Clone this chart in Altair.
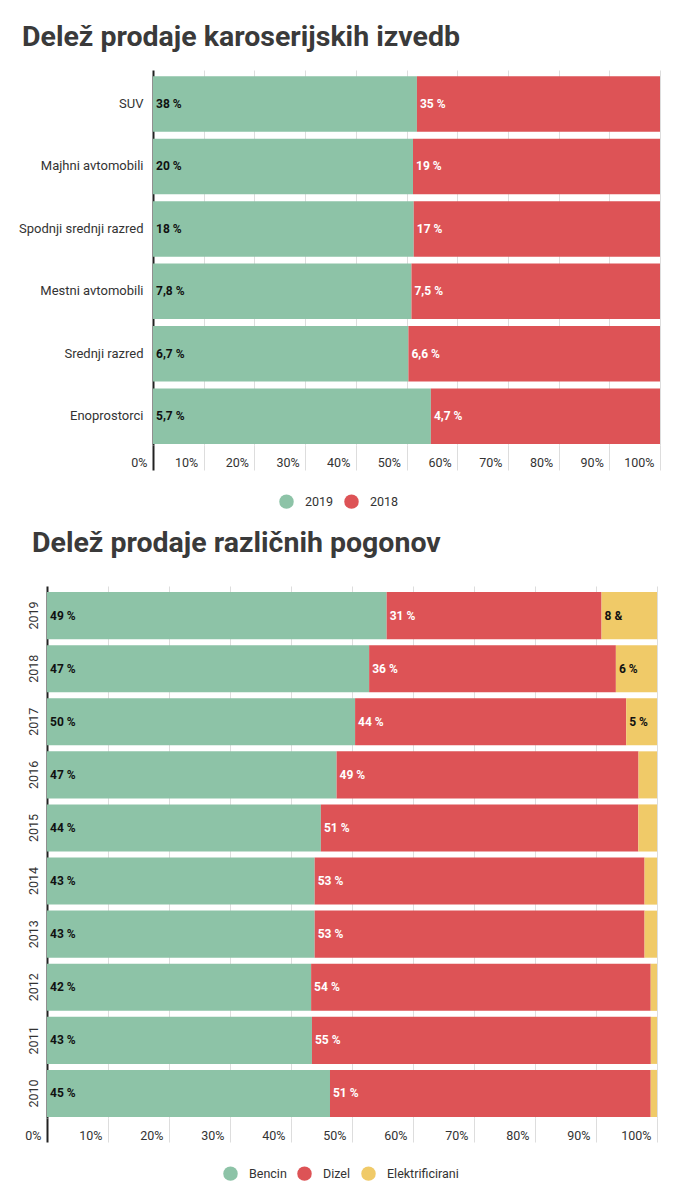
import altair as alt
import pandas as pd

# ---- top chart data ----
body_types = ["SUV", "Majhni avtomobili", "Spodnji srednji razred",
              "Mestni avtomobili", "Srednji razred", "Enoprostorci"]
share_2019 = [38, 20, 18, 7.8, 6.7, 5.7]
share_2018 = [35, 19, 17, 7.5, 6.6, 4.7]
labels_2019 = ["38 %", "20 %", "18 %", "7,8 %", "6,7 %", "5,7 %"]
labels_2018 = ["35 %", "19 %", "17 %", "7,5 %", "6,6 %", "4,7 %"]
series_top = ["2019", "2018"]

# ---- bottom chart data ----
years = ["2019", "2018", "2017", "2016", "2015", "2014", "2013", "2012", "2011", "2010"]
bencin = [49, 47, 50, 47, 44, 43, 43, 42, 43, 45]
dizel = [31, 36, 44, 49, 51, 53, 53, 54, 55, 51]
elektr = [8, 6, 5, 3, 3, 2, 2, 1, 1, 1]
labels_bencin = ["49 %", "47 %", "50 %", "47 %", "44 %", "43 %", "43 %", "42 %", "43 %", "45 %"]
labels_dizel = ["31 %", "36 %", "44 %", "49 %", "51 %", "53 %", "53 %", "54 %", "55 %", "51 %"]
labels_elektr = ["8 &", "6 %", "5 %", "", "", "", "", "", "", ""]
series_bottom = ["Bencin", "Dizel", "Elektrificirani"]

GREEN = "#8DC3A7"
RED = "#DD5356"
YELLOW = "#F0CA68"
FONT = "Roboto"
TEXT_DARK = "#333333"

rows = []
for i, c in enumerate(body_types):
    rows.append(dict(cat=c, series="2019", value=share_2019[i], label=labels_2019[i], order=0, tcolor="#111111"))
    rows.append(dict(cat=c, series="2018", value=share_2018[i], label=labels_2018[i], order=1, tcolor="#ffffff"))
top_df = pd.DataFrame(rows)

rows = []
for i, y in enumerate(years):
    rows.append(dict(cat=y, series="Bencin", value=bencin[i], label=labels_bencin[i], order=0, tcolor="#111111"))
    rows.append(dict(cat=y, series="Dizel", value=dizel[i], label=labels_dizel[i], order=1, tcolor="#ffffff"))
    rows.append(dict(cat=y, series="Elektrificirani", value=elektr[i], label=labels_elektr[i], order=2, tcolor="#111111"))
bot_df = pd.DataFrame(rows)

ticks = [i / 10 for i in range(11)]


def make_chart(df, cats, series, colors, title, title_dx, title_offset, y_axis, width, x_range, height,
               pad_inner, pad_outer, band_align, tick_size, legend_x, legend_y):
    xscale = alt.Scale(domain=[0, 1], nice=False, zero=True, range=x_range)
    xaxis = alt.Axis(values=ticks, format="%", title=None, domain=False,
                     grid=True,
                     gridColor=alt.condition("datum.value == 0", alt.value("#222222"), alt.value("#dddddd")),
                     gridWidth=alt.condition("datum.value == 0", alt.value(2), alt.value(1)),
                     ticks=True, tickSize=tick_size,
                     tickColor=alt.condition("datum.value == 0", alt.value("#222222"), alt.value("#dddddd")),
                     tickWidth=alt.condition("datum.value == 0", alt.value(2), alt.value(1)),
                     labelAlign="right", labelBaseline="middle", labelPadding=17 - tick_size,
                     labelOffset=-6, labelFontSize=12.5, labelColor=TEXT_DARK, labelFont=FONT,
                     labelFlush=False, labelOverlap=False)
    yscale = alt.Scale(domain=cats, paddingInner=pad_inner, paddingOuter=pad_outer, align=band_align)

    bars = alt.Chart(df).mark_bar().encode(
        x=alt.X("value:Q", stack="normalize", scale=xscale, axis=xaxis),
        y=alt.Y("cat:N", scale=yscale, axis=y_axis, sort=cats),
        color=alt.Color("series:N", scale=alt.Scale(domain=series, range=colors),
                        legend=alt.Legend(title=None, orient="none", legendX=legend_x, legendY=legend_y,
                                          direction="horizontal", symbolType="circle", symbolSize=210,
                                          symbolStrokeWidth=0, labelFontSize=12.5, labelFont=FONT,
                                          labelColor=TEXT_DARK, labelOffset=11, columnPadding=10)),
        order=alt.Order("order:Q", sort="ascending"),
    )
    texts = alt.Chart(df).transform_joinaggregate(
        total="sum(value)", groupby=["cat"]
    ).transform_window(
        cum="sum(value)", groupby=["cat"], sort=[alt.SortField("order", order="ascending")], frame=[None, 0]
    ).transform_calculate(
        start="(datum.cum - datum.value) / datum.total"
    ).mark_text(align="left", baseline="middle", dx=3, fontSize=12, fontWeight="bold", font=FONT).encode(
        x=alt.X("start:Q", scale=xscale),
        y=alt.Y("cat:N", scale=yscale, sort=cats),
        text="label:N",
        color=alt.Color("tcolor:N", scale=None),
    )
    return alt.layer(bars, texts).properties(
        width=width, height=height,
        title=alt.TitleParams(title, anchor="start", frame="group", dx=title_dx, fontSize=28.5, font=FONT,
                              fontWeight="bold", color="#3a3a3a", offset=title_offset),
    )


top_yaxis = alt.Axis(title=None, domain=False, ticks=False, tickSize=0, labelPadding=-96, labelAlign="right",
                     labelFontSize=13, labelColor=TEXT_DARK, labelFont=FONT, minExtent=34, maxExtent=34)
bot_yaxis = alt.Axis(title=None, domain=False, ticks=False, tickSize=0, labelPadding=7, labelFontSize=12.5,
                     labelColor=TEXT_DARK, labelFont=FONT, labelAngle=-90, labelAlign="center",
                     labelBaseline="bottom", minExtent=34, maxExtent=34)

top = make_chart(top_df, body_types, series_top, [GREEN, RED], "Delež prodaje karoserijskih izvedb", -25, 18.5,
                 top_yaxis, 613, [106, 613], 375, 0.112, 0.06, 0.85, 25, 232, 424)
bottom = make_chart(bot_df, years, series_bottom, [GREEN, RED, YELLOW], "Delež prodaje različnih pogonov", -15, 28.5,
                    bot_yaxis, 610, [0, 610], 532, 0.113, 0.066, 0.86, 24, 176, 580)

chart = alt.vconcat(top, bottom, spacing=20).resolve_scale(
    color="independent", x="independent", y="independent"
).properties(
    padding={"top": 15, "left": 5, "right": 5, "bottom": 5}
).configure(background="white").configure_view(stroke=None)

chart.save("out.html", embed_options={"renderer": "svg", "actions": False})
